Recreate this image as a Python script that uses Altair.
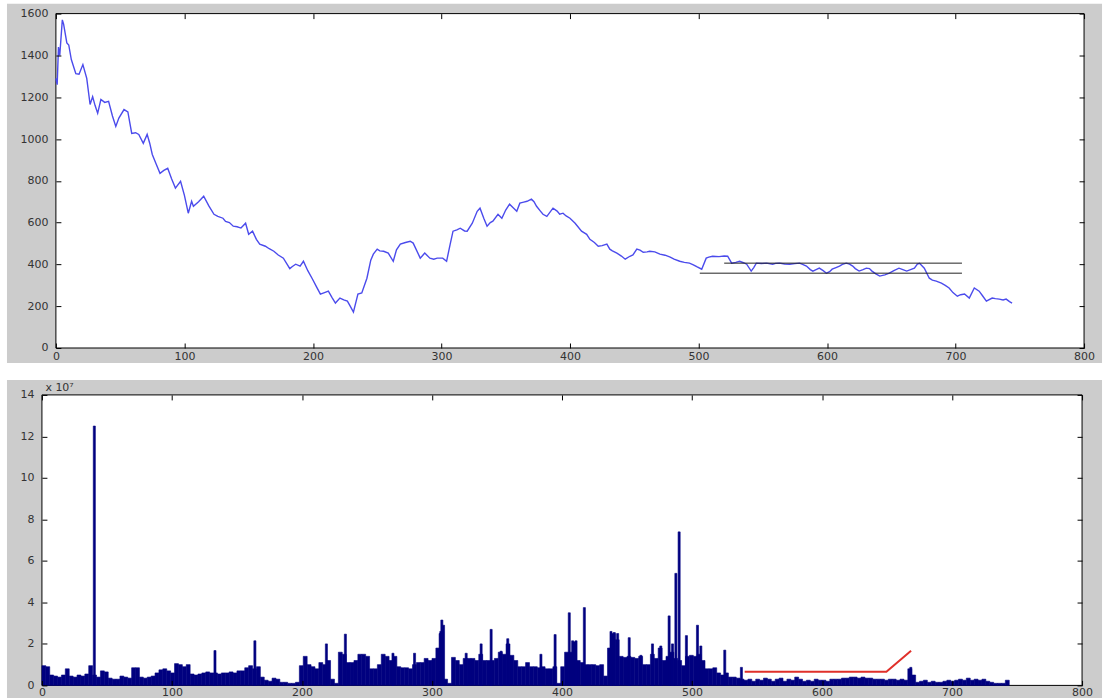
import altair as alt
import pandas as pd

# ---------------- data ----------------
price_x = [0, 1, 2, 3, 5, 6, 8.5, 10, 12, 15.5, 18, 21, 24, 26.6, 28.6, 30.5, 32.5, 35, 38, 41,
           44, 46.6, 49, 53, 56, 59, 62, 64.5, 68, 71, 73, 75, 78, 81, 84, 87, 90, 93, 97, 100,
           103, 105.6, 107, 111, 115, 119, 123, 126, 130, 132, 135, 138, 141, 144, 147.6, 150, 153, 156, 158.6, 163,
           166, 169.6, 173, 177, 182, 184, 186.6, 190, 192.6, 196, 199.6, 203, 205.8, 209, 212, 215, 217.5, 221, 224, 226.8,
           229, 231.5, 235, 238, 242, 245, 247, 250, 252, 255, 258.6, 262.5, 265, 268, 272, 275.7, 278, 283.5, 287, 291,
           294, 296.7, 301, 304, 306.8, 309, 312, 314.6, 318, 320, 324, 327.8, 330, 333, 335.5, 338, 340, 344, 347, 350,
           353, 356, 358.6, 361, 364, 366.6, 370, 372, 374, 377, 379, 382, 386.8, 390, 392, 394.6, 397, 400, 404, 409,
           413, 415.5, 419, 422, 425, 428.7, 431, 433, 436.5, 440, 443, 446.6, 449, 452, 454.5, 457, 460, 462, 466, 470,
           474, 478, 481, 485.4, 489, 493, 496, 499, 502.5, 506, 508, 511, 516, 520, 522.7, 525.8, 529, 532, 535, 537.5,
           541, 543, 545, 549, 553, 557.7, 560, 563, 567, 571, 575, 578.6, 581, 584, 587, 589, 591.5, 594, 597, 599.6,
           602, 604, 607, 609.7, 612, 615, 617.5, 620, 622, 625, 628, 630.6, 633, 635, 638, 641, 645, 648.5, 652, 656,
           659, 662, 665, 668, 670.3, 672, 675.7, 679.6, 682, 685, 689, 692, 695, 698, 701.4, 704, 707, 710.7, 714.6, 718.4,
           721, 724, 728.5, 731, 734, 737, 739.4, 742, 744]
price_y = [1290, 1260, 1440, 1400, 1570, 1550, 1460, 1450, 1380, 1313, 1310, 1356, 1290, 1165, 1203, 1160, 1123, 1189, 1175, 1180,
           1110, 1060, 1100, 1141, 1130, 1027, 1030, 1022, 979, 1022, 980, 926, 880, 836, 850, 860, 810, 765, 798, 730,
           645, 702, 678, 700, 726, 680, 640, 630, 621, 606, 600, 583, 580, 574, 597, 544, 559, 520, 497, 487,
           475, 463, 445, 430, 380, 390, 401, 392, 415, 370, 330, 290, 258, 265, 272, 240, 215, 239, 230, 224,
           200, 172, 258, 263, 334, 420, 449, 473, 465, 463, 454, 415, 470, 497, 505, 511, 502, 430, 454, 430,
           425, 430, 430, 415, 497, 559, 565, 573, 560, 559, 597, 654, 669, 620, 583, 600, 607, 640, 621, 660,
           688, 670, 654, 693, 698, 702, 712, 700, 678, 655, 640, 630, 669, 655, 640, 645, 632, 621, 597, 559,
           544, 520, 505, 487, 490, 497, 473, 465, 454, 440, 425, 439, 445, 473, 468, 458, 460, 463, 460, 449,
           444, 435, 425, 415, 410, 406, 398, 388, 377, 430, 435, 439, 437, 440, 439, 406, 410, 415, 408, 401,
           368, 385, 406, 404, 406, 401, 405, 406, 402, 401, 404, 406, 400, 392, 375, 368, 375, 382, 370, 358,
           365, 377, 385, 392, 400, 406, 401, 392, 380, 368, 375, 382, 380, 368, 355, 344, 350, 358, 370, 382,
           375, 368, 375, 382, 401, 405, 382, 334, 325, 320, 310, 300, 287, 265, 248, 255, 258, 239, 287, 272,
           250, 224, 239, 236, 234, 230, 234, 222, 215]

band_start = [520, 501]
band_end = [705, 705]
band_level = [406, 358]

# volume (x 10^7), one value per 3-day block starting at day 0
vol_base = [0.95, 0.9, 0.5, 0.45, 0.4, 0.5, 0.8, 0.45, 0.4, 0.5,
            0.45, 0.55, 0.95, 0.5, 0.4, 0.7, 0.65, 0.35, 0.3, 0.3,
            0.45, 0.4, 0.35, 0.85, 0.85, 0.4, 0.35, 0.4, 0.45, 0.6,
            0.75, 0.8, 0.7, 0.6, 1.05, 1.0, 0.9, 1.0, 0.55, 0.5,
            0.55, 0.6, 0.65, 0.6, 0.6, 0.55, 0.6, 0.6, 0.65, 0.6,
            0.7, 0.7, 0.85, 0.95, 0.8, 0.9, 0.4, 0.25, 0.2, 0.35,
            0.3, 0.15, 0.15, 0.1, 0.1, 0.15, 0.95, 1.4, 1.0, 0.9,
            0.8, 1.1, 1.0, 1.2, 0.3, 0.1, 1.6, 1.5, 1.1, 1.1,
            1.2, 1.5, 1.5, 1.4, 0.8, 0.8, 1.0, 1.5, 1.4, 1.2,
            1.4, 0.9, 0.85, 0.85, 0.8, 1.0, 1.1, 1.1, 1.3, 1.2,
            1.3, 1.8, 2.6, 0.3, 0.1, 1.35, 1.2, 1.0, 1.3, 1.3,
            1.3, 1.2, 1.5, 1.2, 1.2, 1.2, 1.3, 1.6, 1.5, 2.0,
            1.45, 1.2, 0.9, 0.9, 1.1, 0.9, 0.9, 0.85, 0.9, 0.8,
            0.8, 0.9, 0.1, 0.9, 1.6, 1.6, 2.1, 1.2, 1.1, 1.0,
            1.0, 1.0, 0.95, 1.0, 0.45, 1.8, 2.5, 2.2, 1.4, 1.35,
            1.4, 1.35, 1.3, 1.4, 1.0, 1.0, 1.5, 1.3, 1.8, 1.2,
            1.4, 1.6, 1.3, 1.2, 0.95, 1.4, 1.45, 1.4, 1.5, 1.2,
            0.8, 0.8, 0.85, 0.6, 0.5, 0.6, 0.4, 0.4, 0.35, 0.3,
            0.25, 0.3, 0.2, 0.3, 0.25, 0.35, 0.3, 0.2, 0.3, 0.35,
            0.2, 0.3, 0.25, 0.4, 0.3, 0.2, 0.25, 0.2, 0.3, 0.25,
            0.25, 0.2, 0.3, 0.3, 0.3, 0.35, 0.35, 0.4, 0.4, 0.35,
            0.4, 0.35, 0.35, 0.3, 0.3, 0.3, 0.25, 0.3, 0.3, 0.25,
            0.3, 0.25, 0.8, 0.5, 0.15, 0.2, 0.25, 0.15, 0.2, 0.15,
            0.15, 0.2, 0.25, 0.2, 0.25, 0.3, 0.25, 0.35, 0.25, 0.3,
            0.25, 0.3, 0.2, 0.15, 0.1, 0.1, 0.1, 0.25]

spike_x = [39.5, 132.3, 163, 218, 232.6, 269.2, 285.8, 305.5, 306.8, 308.1,
           325.5, 337, 344.7, 352.4, 357.5, 383, 393.9, 404.8, 407.4, 410,
           416.4, 436.9, 439.4, 442, 450.9, 459.9, 468.8, 475.2, 481.6, 484.2,
           486.8, 489.3, 494.9, 503.4, 506, 524.4, 537.2, 667.5]
spike_v = [12.5, 1.68, 2.15, 2.0, 2.47, 1.55, 1.55, 2.5, 3.15, 2.9,
           1.55, 2.0, 2.7, 1.65, 2.25, 1.5, 2.45, 3.5, 2.15, 2.15,
           3.75, 2.6, 2.55, 2.5, 2.3, 1.45, 2.0, 1.9, 3.35, 2.0,
           5.4, 7.4, 2.4, 2.9, 1.9, 1.7, 0.87, 0.87]

trend_x = [540.5, 649.5, 668.5]
trend_v = [0.66, 0.66, 1.67]

x_ticks = [0, 100, 200, 300, 400, 500, 600, 700, 800]
price_ticks = [0, 200, 400, 600, 800, 1000, 1200, 1400, 1600]
vol_ticks = [0, 2, 4, 6, 8, 10, 12, 14]

# ---------------- tables ----------------
BLOCK = 3
SPIKE_W = 1.6
price_df = pd.DataFrame({"day": price_x, "price": price_y})
band_df = pd.DataFrame({"start": band_start, "end": band_end, "level": band_level})
base_df = pd.DataFrame({"x": [i * BLOCK for i in range(len(vol_base))], "v": vol_base})
base_df["x2"] = base_df["x"] + BLOCK
spike_df = pd.DataFrame({"x": spike_x, "v": spike_v})
spike_df["x2"] = spike_df["x"] + SPIKE_W
trend_df = pd.DataFrame({"day": trend_x, "v": trend_v})
one = pd.DataFrame({"k": [0]})

# ---------------- layout ----------------
FONT = "DejaVu Sans"
GRAY = "#cccccc"
BAR = "#00007f"
TOP_W, TOP_H, SHIFT = 1044, 335, 14
BOT_W, BOT_H = 1042, 291


def label_axis(orient, values, offset=0, pad=3, **kw):
    opts = dict(orient=orient, values=values, offset=offset, ticks=False, tickSize=0,
                domain=False, grid=False, labelPadding=pad, labelFont=FONT,
                labelFontSize=11, labelColor="#333333", labelFlush=False,
                labelOverlap=False, zindex=1, format="d")
    opts.update(kw)
    if "title" not in opts:
        opts["title"] = None
    return alt.Axis(**opts)


def tick_axis(orient, values, offset):
    return alt.Axis(orient=orient, values=values, offset=offset, labels=False, ticks=True,
                    tickSize=5, tickColor="#000000", tickWidth=1, domain=False, grid=False,
                    title=None, zindex=1)


# ---------------- top panel ----------------
xs_top = alt.Scale(domain=[0, 800], range=[SHIFT, TOP_W], nice=False, zero=False)
ys_top = alt.Scale(domain=[0, 1600], nice=False)

gray_top = alt.Chart(one).mark_rect(color=GRAY).encode(
    x=alt.value(-35), x2=alt.value(1062), y=alt.value(-10), y2=alt.value(350))

box_top = alt.Chart(pd.DataFrame({"x0": [0], "x1": [800], "y0": [0], "y1": [1600]})).mark_rect(
    fill="white", stroke="#000000", strokeWidth=1).encode(
    x=alt.X("x0:Q", scale=xs_top, axis=label_axis("bottom", x_ticks, pad=3)),
    x2="x1:Q",
    y=alt.Y("y0:Q", scale=ys_top, axis=label_axis("left", price_ticks, offset=-SHIFT, pad=8)),
    y2="y1:Q")

line_top = alt.Chart(price_df).mark_line(color="#4b4bec", strokeWidth=1.4).encode(
    x=alt.X("day:Q", scale=xs_top, axis=tick_axis("bottom", x_ticks, -5)),
    y=alt.Y("price:Q", scale=ys_top, axis=tick_axis("left", price_ticks, -(SHIFT + 5))))

bands = alt.Chart(band_df).mark_rule(color="#222222", strokeWidth=1).encode(
    x=alt.X("start:Q", scale=xs_top, axis=tick_axis("top", x_ticks, -5)),
    x2="end:Q",
    y=alt.Y("level:Q", scale=ys_top, axis=tick_axis("right", price_ticks, -5)))

top = alt.layer(gray_top, box_top, line_top, bands).resolve_axis(
    x="independent", y="independent").properties(width=TOP_W, height=TOP_H)

# ---------------- bottom panel ----------------
xs_bot = alt.Scale(domain=[0, 800], nice=False, zero=False)
ys_bot = alt.Scale(domain=[0, 14], nice=False)

gray_bot = alt.Chart(one).mark_rect(color=GRAY).encode(
    x=alt.value(-35), x2=alt.value(1062), y=alt.value(-15), y2=alt.value(304))

box_bot = alt.Chart(pd.DataFrame({"x0": [0], "x1": [800], "y0": [0], "y1": [14]})).mark_rect(
    fill="white", stroke="#000000", strokeWidth=1).encode(
    x=alt.X("x0:Q", scale=xs_bot, axis=label_axis("bottom", x_ticks, pad=1)),
    x2="x1:Q",
    y=alt.Y("y0:Q", scale=ys_bot, axis=label_axis(
        "left", vol_ticks, pad=8, title="x 10\u2077", titleAngle=0, titleAlign="left",
        titleBaseline="bottom", titleX=3, titleY=-2, titleFont=FONT, titleFontSize=11,
        titleFontWeight="normal", titleColor="#333333")),
    y2="y1:Q")

bars_base = alt.Chart(base_df).mark_rect(color=BAR, stroke=BAR, strokeWidth=0.6).encode(
    x=alt.X("x:Q", scale=xs_bot, axis=tick_axis("bottom", x_ticks, -5)),
    x2="x2:Q",
    y=alt.Y("v:Q", scale=ys_bot, axis=tick_axis("left", vol_ticks, -5)),
    y2=alt.datum(0))

bars_spike = alt.Chart(spike_df).mark_rect(color=BAR, stroke=BAR, strokeWidth=0.6).encode(
    x=alt.X("x:Q", scale=xs_bot, axis=tick_axis("top", x_ticks, -5)),
    x2="x2:Q",
    y=alt.Y("v:Q", scale=ys_bot, axis=tick_axis("right", vol_ticks, -5)),
    y2=alt.datum(0))

trend = alt.Chart(trend_df).mark_line(color="#e0302a", strokeWidth=2).encode(
    x=alt.X("day:Q", scale=xs_bot, axis=None),
    y=alt.Y("v:Q", scale=ys_bot, axis=None))

bottom = alt.layer(gray_bot, box_bot, bars_base, bars_spike, trend).resolve_axis(
    x="independent", y="independent").properties(width=BOT_W, height=BOT_H)

chart = alt.vconcat(top, bottom, spacing=15).properties(
    background="white",
    padding={"left": 6, "top": 2, "right": 8, "bottom": 2},
).configure_view(stroke="transparent")

chart.save("out.html", embed_options={"renderer": "svg", "actions": False})
